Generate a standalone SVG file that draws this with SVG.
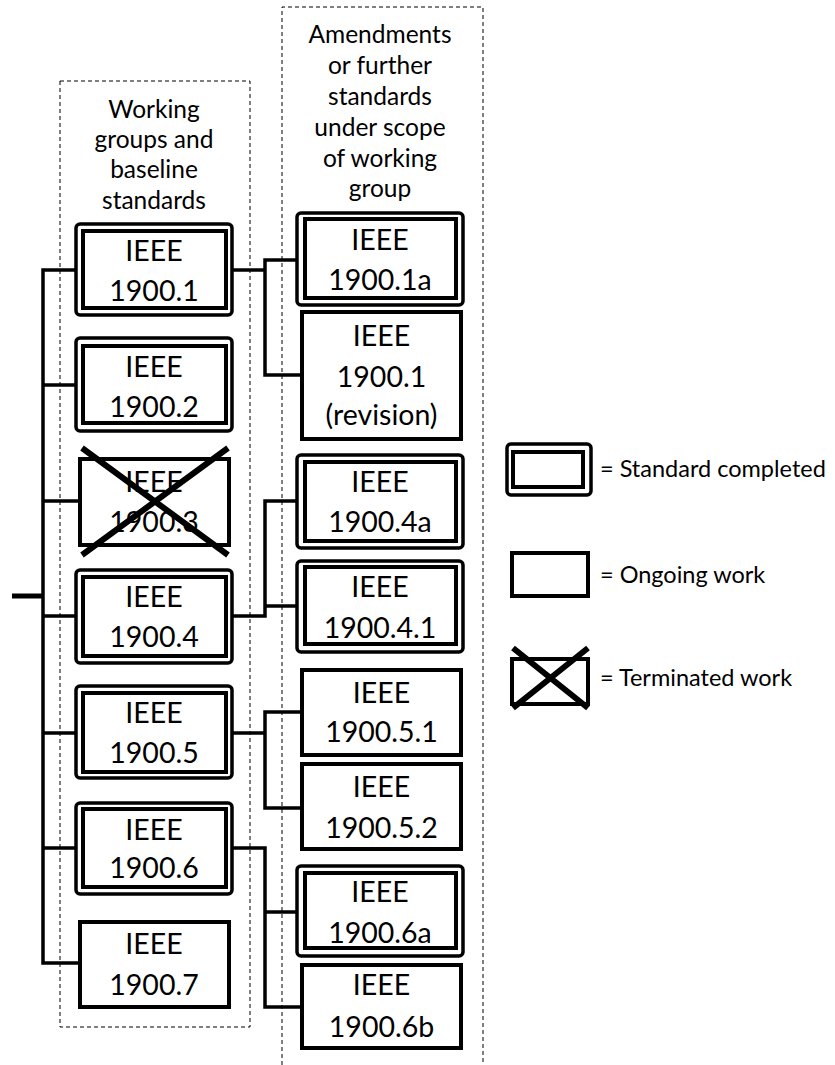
<svg xmlns="http://www.w3.org/2000/svg" width="835" height="1065" viewBox="0 0 835 1065">
<style>
.bg{fill:#fff}
.dash{fill:none;stroke:#000;stroke-width:1;stroke-dasharray:4,3}
.outer{fill:#fff;stroke:#000;stroke-width:3.5}
.inner{fill:none;stroke:#000;stroke-width:4}
.single{fill:#fff;stroke:#000;stroke-width:4}
.cross{stroke:#000;stroke-width:6;fill:none}
.conn{fill:none;stroke:#000;stroke-width:3.5;stroke-linejoin:miter;stroke-linecap:butt}
.t{font-family:Lato,"Open Sans","Liberation Sans",sans-serif;font-size:28.5px;fill:#000;text-anchor:middle}
.h{font-family:Lato,"Open Sans","Liberation Sans",sans-serif;font-size:24.5px;fill:#000;text-anchor:middle}
.l{font-family:Lato,"Open Sans","Liberation Sans",sans-serif;font-size:23.5px;fill:#000}
</style>
<rect class="bg" x="0" y="0" width="835" height="1065"/>
<g id="columns">
<rect class="dash" x="60" y="81" width="190" height="946"/>
<path class="dash" d="M282,1065 V7 H483 V1065"/>
<text class="h"><tspan x="154" y="118">Working</tspan><tspan x="154" y="148">groups and</tspan><tspan x="154" y="178">baseline</tspan><tspan x="154" y="209">standards</tspan></text>
<text class="h"><tspan x="380" y="43">Amendments</tspan><tspan x="380" y="74">or further</tspan><tspan x="380" y="105">standards</tspan><tspan x="380" y="136">under scope</tspan><tspan x="380" y="167">of working</tspan><tspan x="380" y="197">group</tspan></text>
</g>
<g id="connectors">
<path class="conn" d="M12,596 H43" style="stroke-width:5"/>
<path class="conn" d="M80,270 H43 V963 H80"/>
<path class="conn" d="M43,385 H80 M43,501 H80 M43,616 H80 M43,733 H80 M43,848 H80"/>
<path class="conn" d="M232,270 H265 M297,260 H265 V375 H302"/>
<path class="conn" d="M232,616 H265 V501 H297 M265,606 H297"/>
<path class="conn" d="M232,733 H265 M302,712 H265 V808 H302"/>
<path class="conn" d="M232,848 H265 V1007 H302 M265,912 H297"/>
</g>
<g id="n1900_1"><rect class="outer" x="76" y="224" width="156" height="91" rx="4"/><rect class="inner" x="83" y="231" width="143" height="77"/><text class="t"><tspan x="154" y="261">IEEE</tspan><tspan x="154" y="301">1900.1</tspan></text></g>
<g id="n1900_2"><rect class="outer" x="76" y="338" width="156" height="93" rx="4"/><rect class="inner" x="83" y="346" width="143" height="77"/><text class="t"><tspan x="154" y="377">IEEE</tspan><tspan x="154" y="417">1900.2</tspan></text></g>
<g id="n1900_3"><rect class="single" x="80" y="459" width="149" height="86"/><text class="t"><tspan x="154" y="492">IEEE</tspan><tspan x="154" y="532">1900.3</tspan></text><path class="cross" d="M82,448 L228,555 M228,448 L82,555"/></g>
<g id="n1900_4"><rect class="outer" x="76" y="570" width="156" height="93" rx="4"/><rect class="inner" x="83" y="577" width="143" height="79"/><text class="t"><tspan x="154" y="607">IEEE</tspan><tspan x="154" y="647">1900.4</tspan></text></g>
<g id="n1900_5"><rect class="outer" x="76" y="686" width="156" height="92" rx="4"/><rect class="inner" x="83" y="693" width="143" height="79"/><text class="t"><tspan x="154" y="723">IEEE</tspan><tspan x="154" y="763">1900.5</tspan></text></g>
<g id="n1900_6"><rect class="outer" x="76" y="803" width="156" height="91" rx="4"/><rect class="inner" x="83" y="809" width="143" height="78"/><text class="t"><tspan x="154" y="840">IEEE</tspan><tspan x="154" y="878">1900.6</tspan></text></g>
<g id="n1900_7"><rect class="single" x="80" y="922" width="149" height="85"/><text class="t"><tspan x="154" y="954">IEEE</tspan><tspan x="154" y="995">1900.7</tspan></text></g>
<g id="n1900_1a"><rect class="outer" x="297" y="213" width="166" height="92" rx="4"/><rect class="inner" x="305" y="219" width="151" height="79"/><text class="t"><tspan x="380" y="250">IEEE</tspan><tspan x="380" y="290">1900.1a</tspan></text></g>
<g id="n1900_1rev"><rect class="single" x="302" y="312" width="159" height="127"/><text class="t"><tspan x="381.5" y="346">IEEE</tspan><tspan x="381.5" y="387">1900.1</tspan><tspan x="381.5" y="425">(revision)</tspan></text></g>
<g id="n1900_4a"><rect class="outer" x="297" y="455" width="166" height="93" rx="4"/><rect class="inner" x="305" y="462" width="151" height="79"/><text class="t"><tspan x="380" y="492">IEEE</tspan><tspan x="380" y="532">1900.4a</tspan></text></g>
<g id="n1900_4_1"><rect class="outer" x="297" y="561" width="166" height="91" rx="4"/><rect class="inner" x="305" y="567" width="151" height="77"/><text class="t"><tspan x="380" y="597">IEEE</tspan><tspan x="380" y="638">1900.4.1</tspan></text></g>
<g id="n1900_5_1"><rect class="single" x="302" y="670" width="159" height="85"/><text class="t"><tspan x="381.5" y="703">IEEE</tspan><tspan x="381.5" y="742">1900.5.1</tspan></text></g>
<g id="n1900_5_2"><rect class="single" x="302" y="764" width="159" height="85"/><text class="t"><tspan x="381.5" y="797">IEEE</tspan><tspan x="381.5" y="838">1900.5.2</tspan></text></g>
<g id="n1900_6a"><rect class="outer" x="297" y="866" width="166" height="90" rx="4"/><rect class="inner" x="305" y="873" width="151" height="75"/><text class="t"><tspan x="380" y="902">IEEE</tspan><tspan x="380" y="943">1900.6a</tspan></text></g>
<g id="n1900_6b"><rect class="single" x="302" y="965" width="159" height="83"/><text class="t"><tspan x="381.5" y="995">IEEE</tspan><tspan x="381.5" y="1037">1900.6b</tspan></text></g>
<g id="legend">
<rect class="outer" x="507" y="444" width="84" height="51" rx="4"/><rect class="inner" x="513" y="452" width="70" height="35"/>
<text class="l" x="600" y="477">= Standard completed</text>
<rect class="single" x="512" y="553" width="76" height="43"/>
<text class="l" x="600" y="583">= Ongoing work</text>
<rect class="single" x="512" y="659" width="76" height="45"/>
<path class="cross" d="M513,648 L588,708 M588,648 L513,708"/>
<text class="l" x="600" y="686">= Terminated work</text>
</g>
</svg>
